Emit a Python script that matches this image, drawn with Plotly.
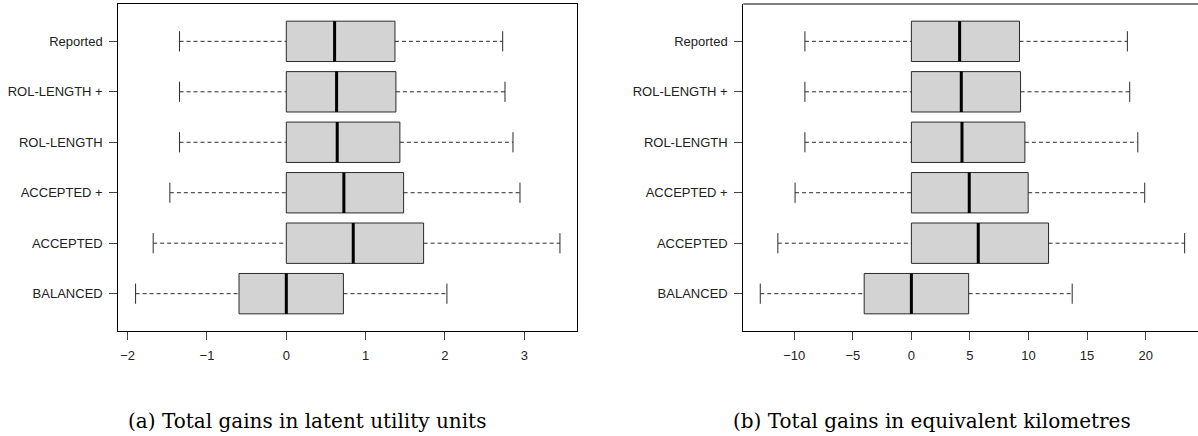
import plotly.graph_objects as go

# ---- data (top to bottom as shown) ----
categories = ["Reported", "ROL-LENGTH +", "ROL-LENGTH", "ACCEPTED +", "ACCEPTED", "BALANCED"]

# (a) Total gains in latent utility units
util_lower = [-1.346, -1.346, -1.346, -1.468, -1.678, -1.900]
util_q1 = [0.0, 0.0, 0.0, 0.0, 0.0, -0.596]
util_median = [0.609, 0.634, 0.642, 0.726, 0.844, 0.0]
util_q3 = [1.370, 1.382, 1.432, 1.479, 1.731, 0.720]
util_upper = [2.728, 2.757, 2.858, 2.946, 3.450, 2.025]

# (b) Total gains in equivalent kilometres
km_lower = [-9.09, -9.09, -9.09, -9.93, -11.40, -12.90]
km_q1 = [0.0, 0.0, 0.0, 0.0, 0.0, -4.03]
km_median = [4.12, 4.26, 4.32, 4.94, 5.71, 0.0]
km_q3 = [9.23, 9.32, 9.69, 9.97, 11.71, 4.89]
km_upper = [18.44, 18.64, 19.33, 19.92, 23.33, 13.73]

util_ticks = [-2, -1, 0, 1, 2, 3]
km_ticks = [-10, -5, 0, 5, 10, 15, 20]

captions = ["(a) Total gains in latent utility units", "(b) Total gains in equivalent kilometres"]

# ---- styling ----
W, H = 1198, 436
BOXW = 0.8
CAPW = 0.4
LINE = "#2a2a2a"
FILL = "#d3d3d3"
SANS = "Liberation Sans, Arial, sans-serif"
SERIF = "DejaVu Serif, Liberation Serif, serif"

n = len(categories)
pos = [n - i for i in range(n)]  # Reported on top

fig = go.Figure()


def add_panel(lower, q1, med, q3, upper, xa, ya):
    fig.add_trace(go.Box(
        orientation="h", y=pos, q1=q1, median=med, q3=q3,
        lowerfence=q1, upperfence=q3, width=BOXW, whiskerwidth=0,
        fillcolor=FILL, line=dict(color=LINE, width=1),
        xaxis=xa, yaxis=ya, hoverinfo="skip", showlegend=False,
    ))
    # dashed whiskers
    wx, wy = [], []
    for lo, a, b, hi, p in zip(lower, q1, q3, upper, pos):
        wx += [lo, a, None, b, hi, None]
        wy += [p, p, None, p, p, None]
    fig.add_trace(go.Scatter(
        x=wx, y=wy, mode="lines", line=dict(color=LINE, width=1, dash="4px,3px"),
        xaxis=xa, yaxis=ya, hoverinfo="skip", showlegend=False,
    ))
    # staples
    cx, cy = [], []
    for lo, hi, p in zip(lower, upper, pos):
        for v in (lo, hi):
            cx += [v, v, None]
            cy += [p - CAPW / 2, p + CAPW / 2, None]
    fig.add_trace(go.Scatter(
        x=cx, y=cy, mode="lines", line=dict(color=LINE, width=1),
        xaxis=xa, yaxis=ya, hoverinfo="skip", showlegend=False,
    ))
    # thick medians
    mx, my = [], []
    for m, p in zip(med, pos):
        mx += [m, m, None]
        my += [p - BOXW / 2, p + BOXW / 2, None]
    fig.add_trace(go.Scatter(
        x=mx, y=my, mode="lines", line=dict(color="black", width=3),
        xaxis=xa, yaxis=ya, hoverinfo="skip", showlegend=False,
    ))


add_panel(util_lower, util_q1, util_median, util_q3, util_upper, "x", "y")
add_panel(km_lower, km_q1, km_median, km_q3, km_upper, "x2", "y2")

ydom = [1 - 331 / H, 1 - 4 / H]
axis_common = dict(
    showgrid=False, zeroline=False, showline=True, linecolor="black", linewidth=1,
    ticks="outside", ticklen=8, tickwidth=1, tickcolor="#444",
    tickfont=dict(family=SANS, size=13, color="#222"),
)

fig.update_layout(
    width=W, height=H,
    margin=dict(l=0, r=0, t=0, b=0),
    paper_bgcolor="white", plot_bgcolor="white",
    hovermode=False, showlegend=False,
    xaxis=dict(domain=[118.3 / W, 577 / W], range=[-2.118, 3.665], anchor="y",
               tickvals=util_ticks, mirror=True, ticklabelstandoff=4, **axis_common),
    yaxis=dict(domain=ydom, range=[0.26, 6.74], anchor="x",
               tickvals=pos, ticktext=categories, mirror=True, ticklabelstandoff=4,
               **axis_common),
    xaxis2=dict(domain=[743.3 / W, 1.0], range=[-14.35, 24.47], anchor="y2",
                tickvals=km_ticks, mirror=False, ticklabelstandoff=4, **axis_common),
    yaxis2=dict(domain=ydom, range=[0.26, 6.74], anchor="x2", mirror=False,
                tickvals=pos, ticktext=categories, ticklabelstandoff=4, **axis_common),
)

# top frame line of the right panel (its right side falls outside the page)
fig.add_shape(type="line", xref="x2 domain", yref="y2 domain",
              x0=0, x1=1, y0=1, y1=1, line=dict(color="black", width=1))

for cx, text in zip([307 / W, 932 / W], captions):
    fig.add_annotation(
        x=cx, y=1 - 421 / H, xref="paper", yref="paper",
        xanchor="center", yanchor="middle", showarrow=False,
        text=text, font=dict(family=SERIF, size=20, color="black"),
    )

fig.write_html(
    "out.html",
    config={"displayModeBar": False, "staticPlot": True},
    post_script="document.body.style.margin='0';document.body.style.overflow='hidden';",
)
